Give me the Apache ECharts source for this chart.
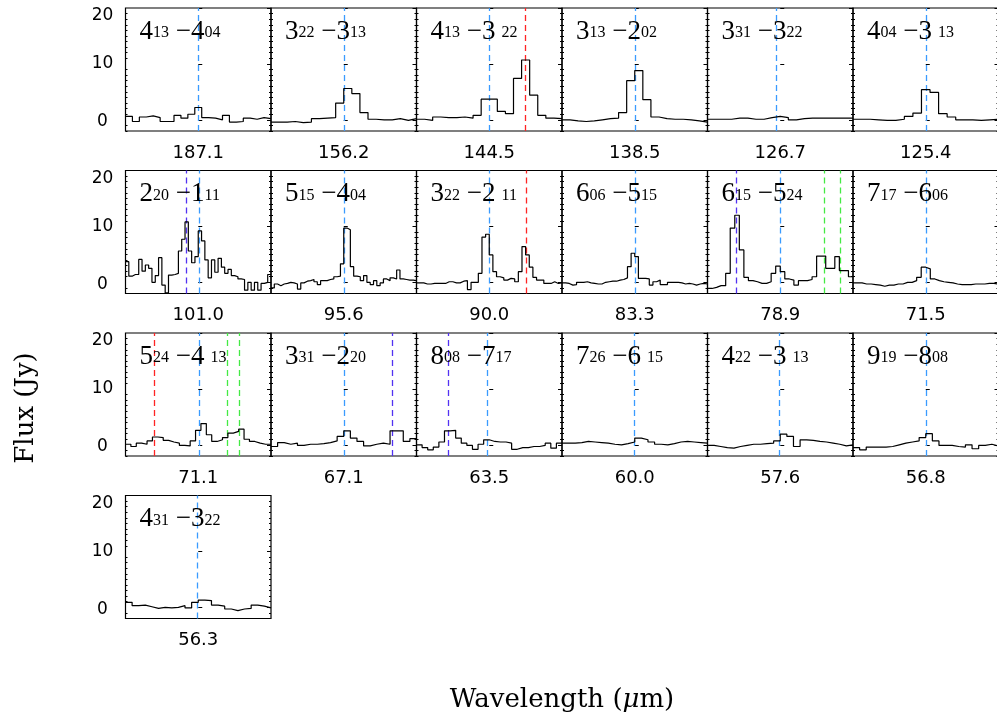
<!DOCTYPE html>
<html><head><meta charset="utf-8">
<script src="https://cdn.jsdelivr.net/npm/echarts@6/dist/echarts.min.js"></script>
<style>html,body{margin:0;padding:0;background:#fff}#c{width:997px;height:726px}</style>
</head><body><div id="c"></div>
<script>
// ---------- data ----------
const wavelengths = ['187.1','156.2','144.5','138.5','126.7','125.4','101.0','95.6','90.0','83.3','78.9','71.5','71.1','67.1','63.5','60.0','57.6','56.8','56.3'];
const upperLevel = [['4','13'],['3','22'],['4','13'],['3','13'],['3','31'],['4','04'],['2','20'],['5','15'],['3','22'],['6','06'],['6','15'],['7','17'],['5','24'],['3','31'],['8','08'],['7','26'],['4','22'],['9','19'],['4','31']];
const lowerLevel = [['4','04'],['3','13'],['3','22'],['2','02'],['3','22'],['3','13'],['1','11'],['4','04'],['2','11'],['5','15'],['5','24'],['6','06'],['4','13'],['2','20'],['7','17'],['6','15'],['3','13'],['8','08'],['3','22']];
const lowerGap = [0,0,1,0,0,1,0,0,1,0,0,0,1,0,0,1,1,0,0];

const flux01 = [0.6,-0.3,0.5,0.7,0.4,-0.3,-0.3,0.8,0.3,1.0,2.2,0.4,0.3,0.0,0.8,-0.4,-0.3,0.3,0.1,0.4,0.2];
const flux02 = [-0.4,-0.4,-0.3,-0.5,-0.4,0.2,0.3,0.4,3.0,5.6,4.7,1.3,0.1,0.0,0.0,0.2,-0.1,0.2];
const flux03 = [0.1,-0.1,0.5,0.4,0.4,0.5,0.3,0.8,3.7,3.7,1.5,1.1,7.4,10.7,4.4,0.8,0.3,0.2];
const flux04 = [0.0,-0.2,-0.3,-0.2,0.0,0.2,0.3,1.3,7.0,8.8,3.6,0.5,0.2,0.1,0.1,0.0,-0.2,-0.4];
const flux05 = [0.1,0.1,0.1,0.3,0.3,0.1,0.1,0.4,0.6,0.4,0.0,0.2,0.3,0.3,0.3,0.3,0.3,0.3];
const flux06 = [0.1,0.1,0.0,-0.1,-0.1,0.1,0.6,1.2,5.4,4.9,1.1,0.5,0.0,0.0,-0.1,0.0,0.1];
const flux07 = [3.7,1.1,1.4,1.4,4.1,2.0,3.1,2.5,0.0,1.2,4.4,-0.5,-1.9,1.3,1.4,1.6,5.6,7.7,10.8,5.6,3.5,4.6,9.2,7.4,4.0,0.8,4.0,1.8,4.3,2.7,1.6,2.3,1.2,1.0,0.6,0.5,-1.4,0.0,-1.4,0.0,-1.4,-0.2,0.0,1.4];
const flux08 = [-1.0,-0.3,-0.6,-0.3,-0.2,0.0,-0.1,-0.3,-1.2,-0.1,0.2,0.3,0.5,0.1,-0.4,0.3,0.3,0.5,0.6,1.0,1.1,3.3,9.7,9.4,2.8,1.1,1.0,0.3,1.2,0.0,-0.4,0.3,-0.6,-0.1,0.6,0.3,0.8,0.6,2.2,0.6,0.5,0.4,0.4,0.3];
const flux09 = [-0.1,-0.1,-0.3,-0.3,-0.2,-0.2,-0.2,-0.2,0.1,0.1,-0.1,-0.1,0.2,0.3,-1.3,0.0,0.0,1.6,8.1,8.6,4.9,1.9,1.0,0.8,0.4,0.7,0.6,0.1,1.9,6.4,4.9,2.7,0.9,0.4,0.4,-0.2,-0.2,0.1,-0.2,-0.1];
const flux10 = [-0.1,-0.2,-0.5,-0.4,0.0,0.0,0.1,-0.1,-0.2,-0.3,-0.3,0.0,0.1,0.2,0.2,0.4,0.5,0.8,2.8,5.2,4.6,0.7,0.7,0.6,-0.5,0.1,0.4,-0.4,-0.4,0.0,0.0,0.0,-0.1,-0.3,-0.2,-0.3,-0.5,-0.3,-0.2,-0.3];
const flux11 = [-1.1,-0.9,-0.6,-0.6,1.6,9.7,12.0,5.8,0.9,0.3,0.1,-0.2,-0.2,0.1,1.6,2.9,1.9,0.6,0.4,-0.5,0.3,0.3,0.5,1.0,4.7,4.7,2.5,2.5,4.6,2.1,2.1,1.0];
const flux12 = [-0.1,-0.1,-0.3,-0.3,-0.4,-0.5,-0.7,-0.5,-0.5,-0.3,-0.3,0.0,0.0,0.3,0.9,2.7,2.4,0.6,0.3,0.1,0.0,-0.1,-0.3,-0.4,-0.4,-0.4,-0.3,-0.3,-0.3,-0.2,-0.2,-0.3];
const flux13 = [0.1,-0.3,0.3,0.1,0.7,1.4,1.3,0.8,0.5,0.3,-0.1,-0.2,0.7,2.6,3.8,1.8,0.6,0.9,1.3,2.1,2.4,2.8,1.0,0.6,0.3,0.1,0.1];
const flux14 = [-0.3,0.4,0.1,0.3,-0.1,0.1,0.1,0.2,0.4,0.7,1.5,2.5,1.2,0.6,-0.2,0.1,0.3,0.1,2.5,2.5,0.6,1.1];
const flux15 = [0.0,-0.5,-0.9,-0.4,0.5,2.5,2.6,1.2,0.3,-0.1,-0.8,0.1,0.9,0.6,0.5,0.5,0.3,-0.8,-0.5,-0.5,-0.3,-0.3,-0.1,0.3,-0.6,0.3];
const flux16 = [0.3,0.3,0.4,0.6,0.5,0.4,0.3,0.1,0.0,0.2,0.5,1.2,0.9,0.5,0.1,0.0,0.2,0.5,0.6,0.5,0.4,0.3];
const flux17 = [-0.1,-0.3,-0.5,-0.6,-0.3,-0.1,0.1,0.1,0.2,0.3,0.7,1.9,1.5,-0.3,0.9,0.8,0.6,0.5,0.3,0.1,-0.2,0.0];
const flux18 = [-0.5,-0.9,-0.4,-0.4,-0.4,-0.3,0.0,0.3,0.5,0.7,1.3,2.0,0.7,-0.1,-0.1,-0.3,-0.4,0.0,-0.7,-0.1,0.1,-0.2];
const flux19 = [0.9,0.3,0.4,0.1,-0.2,0.0,-0.1,0.0,0.3,-0.1,0.9,1.3,1.2,0.4,0.2,-0.3,-0.6,-0.3,-0.2,0.4,0.2,-0.1];
const fluxes = [flux01,flux02,flux03,flux04,flux05,flux06,flux07,flux08,flux09,flux10,flux11,flux12,flux13,flux14,flux15,flux16,flux17,flux18,flux19];

// dashed line positions (offset within panel, -1..1) and kinds
const markerX = [[0],[0],[0,0.49],[0],[-0.05],[0],[-0.17,0.01],[0.01],[0,0.51],[0.01],[-0.614,0,0.6,0.816],[0.01],[-0.606,0.006,0.396,0.565],[0,0.673],[-0.574,-0.025],[-0.01],[-0.015],[0.01],[-0.02]];
const markerKind = [['b'],['b'],['b','r'],['b'],['b'],['b'],['p','b'],['b'],['b','r'],['b'],['p','b','g','g'],['b'],['r','b','g','g'],['b','p'],['p','b'],['b'],['b'],['b'],['b']];
const yTicks = [0,10,20];

// ---------- layout / style ----------
const kindColor = {b:'#3a9bff', r:'#ff2424', p:'#5232f2', g:'#44ea44'};
const rowTops = [8, 170.5, 333, 495.5];
const panelW = 145.5, panelH = 123, left0 = 125.5;
const minorVals = [];
for (let v = -2; v <= 20; v++) if (v % 10 !== 0) minorVals.push(v);

const grids = [], xAxes = [], yAxes = [], series = [], titles = [];
const labelFont = 'DejaVu Sans';
const serif = 'Liberation Serif';
fluxes.forEach((fl, p) => {
  const row = Math.floor(p / 6), col = p % 6;
  const left = left0 + col * panelW, top = rowTops[row];
  grids.push({left, top, width: panelW, height: panelH, show: true, borderColor: '#000', borderWidth: 1.2,
    backgroundColor: 'transparent', containLabel: false, outerBoundsMode: 'none'});
  xAxes.push({gridIndex: p, type: 'value', min: -1, max: 1,
    axisLine: {show: false}, axisTick: {show: false}, axisLabel: {show: false}, splitLine: {show: false},
    name: wavelengths[p], nameLocation: 'middle', nameGap: 13,
    nameTextStyle: {fontFamily: labelFont, fontSize: 18, color: '#000'}});
  const base = {gridIndex: p, type: 'value', min: -2, max: 20, splitLine: {show: false}, axisLine: {show: false}};
  const firstCol = col === 0;
  yAxes.push(Object.assign({}, base, {position: 'left',
    axisTick: {show: true, inside: true, length: 4, customValues: yTicks, lineStyle: {color: '#000'}},
    axisLabel: {show: firstCol, customValues: yTicks, margin: 23, align: 'center', color: '#000',
      fontFamily: labelFont, fontSize: 17,
      formatter: v => v === 20 ? '{t|20}' : (v === 0 ? '{z|0}' : String(v)),
      rich: {t: {fontFamily: labelFont, fontSize: 17, color: '#000', padding: [16, 0, 0, 0]},
             z: {fontFamily: labelFont, fontSize: 17, color: '#000', padding: [4, 0, 0, 0]}}}}));
  yAxes.push(Object.assign({}, base, {position: 'left',
    axisTick: {show: true, inside: true, length: 2, customValues: minorVals, lineStyle: {color: '#000'}},
    axisLabel: {show: false}}));
  yAxes.push(Object.assign({}, base, {position: 'right',
    axisTick: {show: true, inside: true, length: 4, customValues: yTicks, lineStyle: {color: '#000'}},
    axisLabel: {show: false}}));
  yAxes.push(Object.assign({}, base, {position: 'right',
    axisTick: {show: true, inside: true, length: 2, customValues: minorVals, lineStyle: {color: '#000'}},
    axisLabel: {show: false}}));
  const n = fl.length;
  const data = fl.map((v, i) => [-1 + 2 * i / n, v]);
  data.push([1, fl[n - 1]]);
  series.push({type: 'line', xAxisIndex: p, yAxisIndex: p * 4, data, step: 'end', showSymbol: false,
    symbol: 'none', lineStyle: {color: '#000', width: 1.2}, silent: true, z: 3,
    markLine: {symbol: ['none', 'none'], silent: true, label: {show: false}, z: 2,
      data: markerX[p].map((x, k) => ({xAxis: x,
        lineStyle: {color: kindColor[markerKind[p][k]], type: [6, 4], width: 1.3}}))}});
  const up = upperLevel[p], lo = lowerLevel[p];
  const txt = '{m|' + up[0] + '}{s|' + up[1] + '}{m| −}{m|' + lo[0] + '}' + (lowerGap[p] ? '{g|}' : '') + '{s|' + lo[1] + '}';
  titles.push({left: left + 14, top: top + 7, padding: 0, text: txt,
    textStyle: {fontWeight: 'normal', rich: {
      m: {fontFamily: serif, fontSize: 27, fontWeight: 'normal', lineHeight: 30, verticalAlign: 'bottom', color: '#000'},
      s: {fontFamily: serif, fontSize: 16, fontWeight: 'normal', lineHeight: 20, verticalAlign: 'bottom', padding: [0, 0, 4, 0], color: '#000'},
      g: {width: 6, lineHeight: 20}}}});
});

const chart = echarts.init(document.getElementById('c'), null, {renderer: 'canvas'});
chart.setOption({
  animation: false,
  title: titles,
  grid: grids, xAxis: xAxes, yAxis: yAxes, series,
  graphic: [
    {type: 'text', x: 26, y: 408, rotation: Math.PI / 2,
      style: {text: 'Flux (Jy)', font: '26px "DejaVu Serif"', fill: '#000', align: 'center', verticalAlign: 'middle'}},
    {type: 'text', x: 562, y: 700,
      style: {text: 'Wavelength ({i|μ}m)', font: '26px "DejaVu Serif"', fill: '#000', align: 'center', verticalAlign: 'middle',
        rich: {i: {fontFamily: 'DejaVu Serif', fontSize: 26, fontStyle: 'italic', fill: '#000'}}}}
  ]
});
</script></body></html>
